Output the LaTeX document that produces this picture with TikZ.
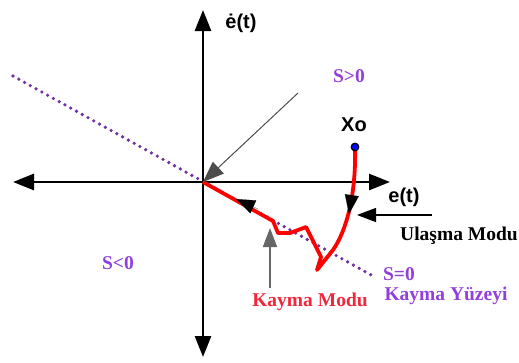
\documentclass[tikz,border=0pt]{standalone}
\usepackage{fontspec}
\setmainfont{Liberation Serif}
\newfontfamily\arialf{Liberation Sans}
\usetikzlibrary{arrows.meta}
\definecolor{dotpurple}{RGB}{112,48,160}
\definecolor{txtpurple}{RGB}{146,64,220}
\definecolor{curvered}{RGB}{255,0,0}
\definecolor{modred}{RGB}{240,40,60}
\begin{document}
\begin{tikzpicture}[x=1pt,y=-1pt,
  bigtip/.tip={Triangle[length=21pt,width=16pt]},
  midtip/.tip={Triangle[length=19pt,width=14pt]},
  axisline/.style={line width=2.8pt},
  sanslbl/.style={inner sep=0pt,font=\arialf\fontsize{20}{22}\selectfont\bfseries},
  seriflbl/.style={inner sep=0pt,font=\fontsize{19.5}{22}\selectfont\bfseries},
  purplelbl/.style={seriflbl,text=txtpurple},
  pointer/.style={line width=1.4pt,-midtip},
  graypointer/.style={draw=gray!80!black,line width=1.8pt,-midtip},
]
\useasboundingbox (0,0) rectangle (519,362);
% coordinates
\coordinate (O) at (203,182);
\coordinate (xl) at (13,182);
\coordinate (xr) at (390,182);
\coordinate (yt) at (203,10);
\coordinate (yb) at (203,357);
\coordinate (s0a) at (13,76);
\coordinate (s0b) at (373,276);
\coordinate (X0) at (355,147);
% sliding surface
\draw[dotpurple,line width=3.6pt,line cap=round,dash pattern=on 0pt off 6.6pt] (s0a) -- (s0b);
% axes
\draw[axisline,bigtip-bigtip] (xl) -- (xr);
\draw[axisline,bigtip-bigtip] (yb) -- (yt);
% trajectory
\draw[curvered,line width=3.8pt,line join=round]
  (X0) .. controls (356,185) and (350,225) .. (333,250)
  -- (317,270) -- (321,257) -- (311,237) -- (306,227) -- (290,233) -- (278,233) -- (273,221) -- (O);
% arrow heads on trajectory
\coordinate (ta1) at (258,209);
\coordinate (ta2) at (236,199);
\draw[-midtip,line width=0.1pt] (ta1) -- (ta2);
\coordinate (tb1) at (352,194);
\coordinate (tb2) at (349,214);
\draw[-midtip,line width=0.1pt] (tb1) -- (tb2);
% initial point
\filldraw[fill=blue,draw=black,line width=1.2pt] (X0) circle (3.8pt);
% pointers
\coordinate (p1) at (298,93);
\draw[draw=gray!60!black,line width=1pt,-bigtip] (p1) -- (O);
\coordinate (u1) at (432,215);
\coordinate (u2) at (357,215);
\draw[pointer] (u1) -- (u2);
\coordinate (k1) at (270,288);
\coordinate (k2) at (270,228);
\draw[graypointer] (k1) -- (k2);
% labels
\node[sanslbl] (ldot) at (241,23) {ė(t)};
\node[sanslbl] (le) at (404,197) {e(t)};
\node[sanslbl] (lx) at (354,125) {Xo};
\node[purplelbl] (lsp) at (349,76) {S>0};
\node[purplelbl] (lsn) at (118,263) {S<0};
\node[purplelbl] (lsz) at (399,274) {S=0};
\node[purplelbl] (lky) at (446,296) {Kayma Yüzeyi};
\node[seriflbl] (lum) at (459,236) {Ulaşma Modu};
\node[seriflbl,text=modred] (lkm) at (310,302) {Kayma Modu};
\end{tikzpicture}
\end{document}
